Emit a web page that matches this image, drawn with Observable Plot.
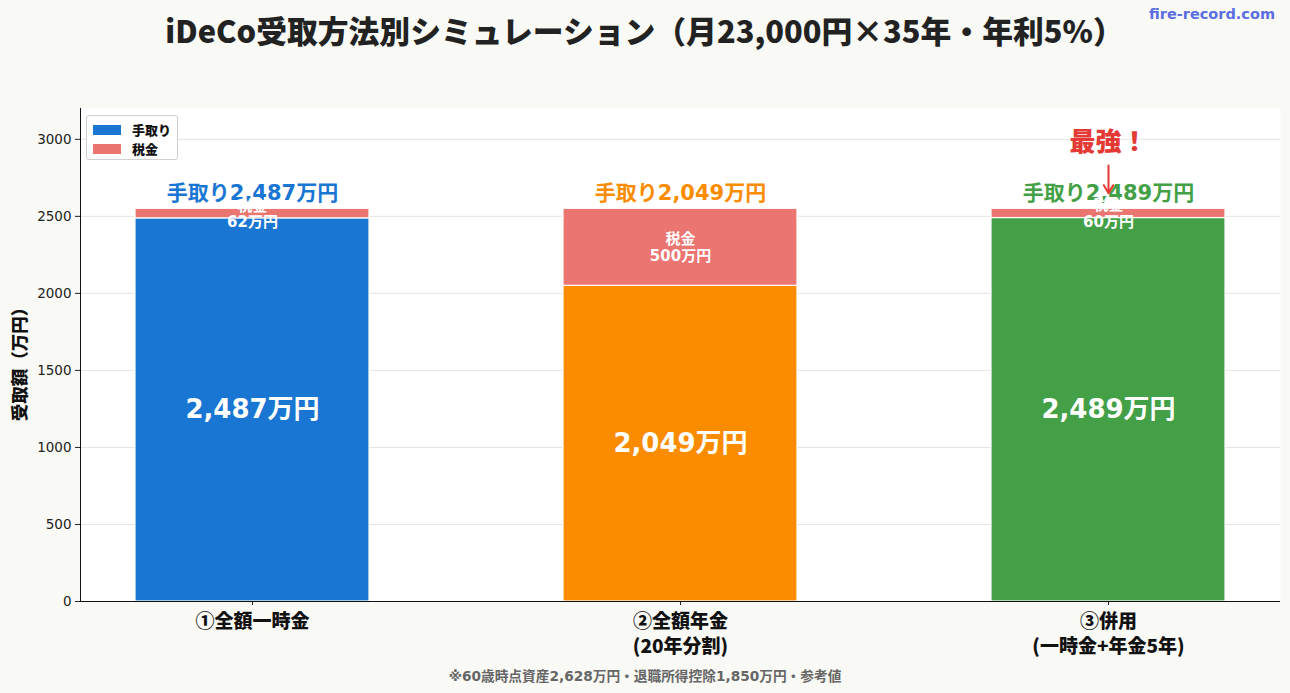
<!DOCTYPE html>
<html>
<head>
<meta charset="utf-8">
<script src="https://cdn.jsdelivr.net/npm/d3@7"></script>
<script src="https://cdn.jsdelivr.net/npm/@observablehq/plot@0.6"></script>
<style>
  body { margin: 0; background: #f9f9f5; }
  #wrap { position: relative; width: 1290px; height: 693px; overflow: hidden; font-family: "Noto Sans CJK JP", sans-serif; }
  #chart { position: absolute; left: 0; top: 0; }
  #chart .ytl text { font-family: "DejaVu Sans", sans-serif; font-size: 13.5px; }
  .title { position: absolute; left: 8px; width: 1273px; top: 7px; text-align: center; font-weight: 900; font-size: 30.8px; line-height: 46px; color: #222; white-space: nowrap; }
  .site { position: absolute; right: 15px; top: 6px; font-family: "DejaVu Sans", sans-serif; font-weight: 700; font-size: 14.5px; color: #5b6ee0; }
  .ylabel { position: absolute; left: 18px; top: 360px; transform: translate(-50%, -50%) rotate(-90deg); font-weight: 900; font-size: 17.5px; color: #111; white-space: nowrap; }
  .note { position: absolute; left: 0; width: 1290px; top: 665px; text-align: center; font-family: "DejaVu Sans", "Noto Sans CJK JP", sans-serif; font-weight: 700; font-size: 13.7px; color: #666; }
  .legend { position: absolute; left: 86px; top: 115px; width: 92px; height: 45px; background: #fff; border: 1px solid #d0d0d0; border-radius: 3px; box-sizing: border-box; }
  .legend .row { position: absolute; left: 6px; display: flex; align-items: center; font-weight: 900; font-size: 13px; color: #111; }
  .legend .sw { width: 28px; height: 10px; margin-right: 11px; }
</style>
</head>
<body>
<div id="wrap"></div>
<script>
// Receipt methods (x categories)
const methods = ["①全額一時金", "②全額年金\n(20年分割)", "③併用\n(一時金+年金5年)"];
// Take-home amount and tax, in 万円
const takeHome = [2487, 2049, 2489];
const tax = [62, 500, 60];
const methodColors = ["#1976D2", "#FB8C00", "#43A047"];
const taxColor = "#EB7571";
const partNames = ["手取り", "税金"];
const yTicks = [0, 500, 1000, 1500, 2000, 2500, 3000];
// Callout over the best method
const bestMethod = methods[2];
const bestLabel = "最強！";
const bestLabelY = 2975;
const bestArrowFrom = 2830;
const bestArrowTo = 2650;

const fmt = d3.format(",");
const rows = methods.flatMap((m, i) => [
  {method: m, part: partNames[0], value: takeHome[i], color: methodColors[i]},
  {method: m, part: partNames[1], value: tax[i], color: taxColor}
]);
const totals = methods.map((m, i) => ({method: m, total: takeHome[i] + tax[i], take: takeHome[i], tax: tax[i], color: methodColors[i]}));

const cjk = "Noto Sans CJK JP";
const wide = "'DejaVu Sans', 'Noto Sans CJK JP'";
const chart = Plot.plot({
  width: 1290,
  height: 693,
  marginTop: 108,
  marginBottom: 92,
  marginLeft: 80,
  marginRight: 10,
  style: {background: "transparent", fontFamily: "DejaVu Sans", fontSize: "13px", color: "#222"},
  x: {domain: methods, paddingInner: 0.454, paddingOuter: 0.127, label: null},
  y: {domain: [0, 3200], label: null},
  color: {type: "identity"},
  marks: [
    Plot.frame({fill: "white", stroke: null}),
    Plot.gridY(yTicks, {stroke: "#e4e4e4", strokeOpacity: 1}),
    Plot.barY(rows, {x: "method", y: "value", fill: "color", stroke: "white", strokeWidth: 1.2}),
    // y tick marks; their labels are drawn as text at the frame's left edge
    Plot.axisY(yTicks, {tickSize: 5, tickFormat: () => "", label: null, stroke: "#222"}),
    Plot.text(yTicks, {y: d => d, frameAnchor: "left", dx: -9, textAnchor: "end", text: d => String(d), fill: "#222", fontSize: 13.5, fontFamily: "DejaVu Sans, sans-serif", className: "ytl"}),
    Plot.axisX({tickSize: 4, tickPadding: 5, fontSize: 19, fontWeight: 900, fontFamily: cjk, lineHeight: 1.3, fill: "#111", stroke: "#222", label: null}),
    Plot.ruleY([0], {stroke: "#111"}),
    Plot.frame({anchor: "left", stroke: "#111"}),
    // amount inside the take-home segment
    Plot.text(totals, {x: "method", y: d => d.take / 2, text: d => fmt(d.take) + "万円", fill: "white", fontSize: 26, fontWeight: "bold", fontFamily: wide}),
    // take-home headline above each bar
    Plot.text(totals, {x: "method", y: "total", dy: -16, text: d => "手取り" + fmt(d.take) + "万円", fill: "color", fontSize: 21, fontWeight: "bold", fontFamily: wide}),
    // tax amount in the tax segment
    Plot.text(totals, {x: "method", y: d => d.take + d.tax / 2, text: d => "税金\n" + fmt(d.tax) + "万円", fill: "white", fontSize: 15, fontWeight: "bold", fontFamily: wide, lineHeight: 1.1}),
    // callout
    Plot.arrow([{method: bestMethod}], {x: "method", y1: bestArrowFrom, y2: bestArrowTo, stroke: "#E53935", strokeWidth: 2, headLength: 9}),
    Plot.text([{method: bestMethod}], {x: "method", y: bestLabelY, text: () => bestLabel, fill: "#E53935", fontSize: 26, fontWeight: 900, fontFamily: cjk})
  ]
});
chart.id = "chart";

const wrap = document.getElementById("wrap");
wrap.appendChild(chart);

function addDiv(cls, html) {
  const el = document.createElement("div");
  el.className = cls;
  el.innerHTML = html;
  wrap.appendChild(el);
  return el;
}
addDiv("title", "iDeCo受取方法別シミュレーション（月23,000円×35年・年利5%）");
addDiv("site", "fire-record.com");
addDiv("ylabel", "受取額（万円）");
addDiv("note", "※60歳時点資産2,628万円・退職所得控除1,850万円・参考値");
const legend = addDiv("legend", "");
[[methodColors[0], partNames[0], 4], [taxColor, partNames[1], 23]].forEach(([c, t, top]) => {
  const r = document.createElement("div");
  r.className = "row";
  r.style.top = top + "px";
  r.innerHTML = `<span class="sw" style="background:${c}"></span><span>${t}</span>`;
  legend.appendChild(r);
});
</script>
</body>
</html>
